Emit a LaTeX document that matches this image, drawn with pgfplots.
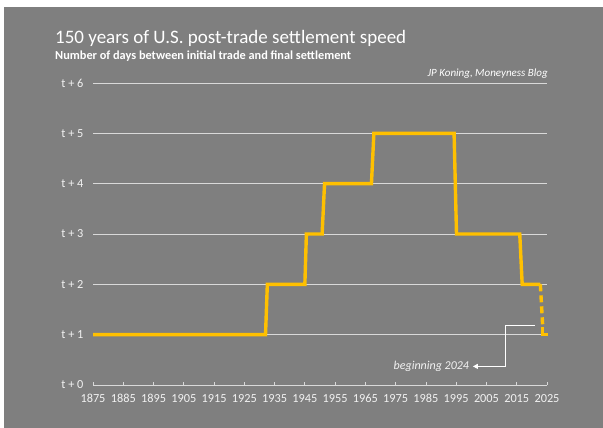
\documentclass[border=0pt]{standalone}
\usepackage{pgfplots}
\pgfplotsset{compat=1.18}
\usepackage{fontspec}
\setmainfont{Carlito}
\usetikzlibrary{arrows.meta}
\definecolor{bg}{HTML}{7F7F7F}
\definecolor{gridc}{HTML}{D9D9D9}
\definecolor{gold}{HTML}{FFC000}
\definecolor{txt}{HTML}{F2F2F2}
\begin{document}
\begin{tikzpicture}
\fill[white] (0bp,0bp) rectangle (603bp,-428bp);
\fill[bg] (4bp,-7bp) rectangle (603bp,-428bp);
\node[anchor=base west, inner sep=0pt, text=white, font=\fontsize{19bp}{22bp}\selectfont] at (55bp,-43bp) {150 years of U.S. post-trade settlement speed};
\node[anchor=base west, inner sep=0pt, text=white, font=\bfseries\fontsize{12.3bp}{14bp}\selectfont] at (55bp,-59bp) {Number of days between initial trade and final settlement};
\node[anchor=base east, inner sep=0pt, text=white, font=\itshape\fontsize{11bp}{13bp}\selectfont] at (548bp,-76bp) {JP Koning, Moneyness Blog};
\begin{axis}[
  at={(93bp,-385bp)}, anchor=south west,
  scale only axis, width=454bp, height=302bp,
  xmin=1875, xmax=2025, ymin=0, ymax=6,
  clip=false,
  axis x line*=bottom, axis y line*=left,
  y axis line style={draw=none},
  x axis line style={draw=gridc, line width=0.8bp},
  ytick={0,1,...,6},
  yticklabels={t + 0,t + 1,t + 2,t + 3,t + 4,t + 5,t + 6},
  xtick={1875,1885,...,2025},
  xticklabels={1875,1885,1895,1905,1915,1925,1935,1945,1955,1965,1975,1985,1995,2005,2015,2025},
  ytick style={draw=none},
  xtick style={draw=gridc, line width=0.8bp},
  xtick align=inside, major tick length=3.5bp,
  ymajorgrids, grid style={draw=gridc, line width=0.8bp},
  tick label style={text=txt, font=\fontsize{12.3bp}{14bp}\selectfont},
  yticklabel style={xshift=-6bp},
  xticklabel style={yshift=-6bp},
]
\addplot[gold, line width=3.4bp, line join=miter] coordinates {
 (1875,1) (1932,1) (1932.6,2) (1945,2) (1945.5,3) (1950.7,3) (1951.5,4)
 (1967,4) (1967.8,5) (1994.3,5) (1995.1,3) (2016,3) (2016.8,2) (2022.8,2)};
\addplot[gold, line width=3.4bp, dash pattern=on 7bp off 4bp] coordinates {
 (2022.8,2) (2023.6,1.15)};
\addplot[gold, line width=3.4bp, line join=miter] coordinates {
 (2023.6,1.15) (2023.6,1) (2025.4,1)};
\draw[white, line width=0.9bp, -{Triangle[length=5bp,width=5bp]}]
  (axis cs:2021,1.19) -- (axis cs:2011.2,1.19) -- (axis cs:2011.2,0.37) -- (axis cs:2000.5,0.37);
\node[anchor=east, inner sep=0pt, text=txt, font=\itshape\fontsize{12bp}{14bp}\selectfont] at (axis cs:1999.3,0.37) {beginning 2024};
\end{axis}
\end{tikzpicture}
\end{document}
